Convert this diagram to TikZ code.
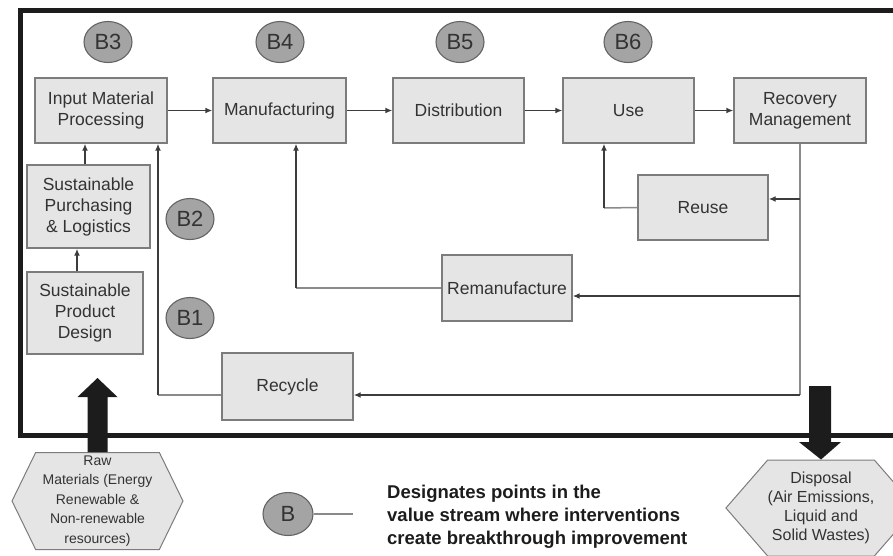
\documentclass[tikz,border=0pt]{standalone}
\usepackage{fontspec}
\setmainfont{Liberation Sans}
\usepackage{tikz}
\usetikzlibrary{arrows.meta, positioning, shapes.geometric, shapes.symbols}
\definecolor{vBox}{HTML}{E5E5E5}
\definecolor{vEdge}{HTML}{7C7C7C}
\definecolor{vInk}{HTML}{333333}
\definecolor{vMark}{HTML}{A4A4A4}
\definecolor{vLine}{HTML}{3C3C3C}
\definecolor{vPale}{HTML}{8A8A8A}
\definecolor{vFrame}{HTML}{1C1C1C}

\begin{document}
\begin{tikzpicture}[x=1pt, y=-1pt, >={Latex[length=7pt, width=6pt]},
    stage/.style={draw=vEdge, fill=vBox, line width=1.4pt, text=vInk, align=center,
                  inner sep=0pt, font=\fontsize{17.5}{21}\selectfont},
    bmark/.style={ellipse, draw=vLine!80, fill=vMark, line width=1.1pt, text=vInk,
                  minimum width=48pt, minimum height=41pt, inner sep=0pt,
                  font=\fontsize{22}{24}\selectfont},
    hexa/.style={signal, signal to=west and east, draw=vEdge, fill=vBox, line width=1pt,
                 text=vInk, align=center, inner sep=0pt},
    flow/.style={->, vLine, line width=1.5pt},
    pale/.style={vPale, line width=1.5pt}]
  \useasboundingbox (0,0) rectangle (893,555);
  % frame round the value stream
  \draw[vFrame, line width=5pt] (20,10) rectangle (915,435);
  % main stream
  \node[stage, minimum width=132pt, minimum height=65pt] (inmat) at (101,110.5) {Input Material\\Processing};
  \node[stage, minimum width=133pt, minimum height=65pt] (manuf) at (279.5,110.5) {Manufacturing};
  \node[stage, minimum width=131pt, minimum height=65pt] (distr) at (458.5,110.5) {Distribution};
  \node[stage, minimum width=131pt, minimum height=65pt] (use) at (628.5,110.5) {Use};
  \node[stage, minimum width=132pt, minimum height=65pt] (recov) at (800,110.5) {Recovery\\Management};
  % left column
  \node[stage, minimum width=123pt, minimum height=83pt] (purch) at (88.5,206.5) {Sustainable\\Purchasing\\\& Logistics};
  \node[stage, minimum width=116pt, minimum height=82pt] (pdes) at (85,313) {Sustainable\\Product\\Design};
  % loops back
  \node[stage, minimum width=130pt, minimum height=65pt] (reuse) at (703,207.5) {Reuse};
  \node[stage, minimum width=130pt, minimum height=66pt] (reman) at (507,288) {Remanufacture};
  \node[stage, minimum width=131pt, minimum height=67pt] (recyc) at (287.5,386.5) {Recycle};
  % breakthrough points
  \foreach \n/\x/\y in {3/108/42, 4/280/42, 5/460/42, 6/628/42, 2/190/219, 1/190/318}
    \node[bmark] (b\n) at (\x,\y) {B\n};

  \foreach \a/\b in {inmat/manuf, manuf/distr, distr/use, use/recov}
    \draw[flow] (\a.east) -- (\b.west);
  \draw[flow] (purch.north -| 85,0) -- (inmat.south -| 85,0);
  \draw[flow] (pdes.north -| 77,0) -- (purch.south -| 77,0);

  % recovery trunk and the three loops
  \coordinate (trunk) at (800,395);
  \draw[pale] (recov.south) -- (trunk);
  \draw[flow] (800,199) -- (reuse.east |- 0,199);
  \draw[flow] (trunk |- 0,296) -- (reman.east |- 0,296);
  \draw[flow] (trunk) -- (recyc.east |- trunk);
  \draw[pale] (reuse.west) -- (604,208);
  \draw[flow] (604,208) -- (use.south -| 604,0);
  \draw[pale] (reman.west) -- (296,288);
  \draw[flow] (296,288) -- (manuf.south -| 296,0);
  \draw[pale] (recyc.west |- trunk) -- (158,395);
  \draw[flow] (158,395) -- (inmat.south -| 158,0);

  % inputs and outputs
  \node[hexa, signal pointer angle=128, minimum width=171pt, minimum height=97pt,
        font=\fontsize{14}{19.5}\selectfont] (raw) at (97.5,501) {Raw\\Materials (Energy\\Renewable \&\\Non-renewable\\resources)};
  \node[hexa, signal pointer angle=98, minimum width=172pt, minimum height=96pt,
        font=\fontsize{16}{19}\selectfont] (disp) at (821,508) {Disposal\\(Air Emissions,\\Liquid and\\Solid Wastes)};
  \fill[vFrame] (raw.north) ++(-10,0) -- ++(0,-55) -- ++(-10,0) -- (97.5,378)
    -- (117.5,397) -- ++(-10,0) -- ++(0,55) -- cycle;
  \fill[vFrame] (809,386) -- (831,386) -- (831,442) -- (841,442) -- (disp.north)
    -- (799,442) -- (809,442) -- cycle;

  % legend
  \node[bmark, minimum width=50pt, minimum height=43pt] (bkey) at (288,514) {B};
  \coordinate (keyend) at (353,514);
  \draw[pale, line width=1.2pt] (bkey.east) -- (keyend);
  \node[anchor=north west, align=left, inner sep=0pt, text=vFrame,
        font=\bfseries\fontsize{18.5}{23}\selectfont] (keytext) at (387,485)
    {Designates points in the\\value stream where interventions\\create breakthrough improvement};
\end{tikzpicture}
\end{document}
